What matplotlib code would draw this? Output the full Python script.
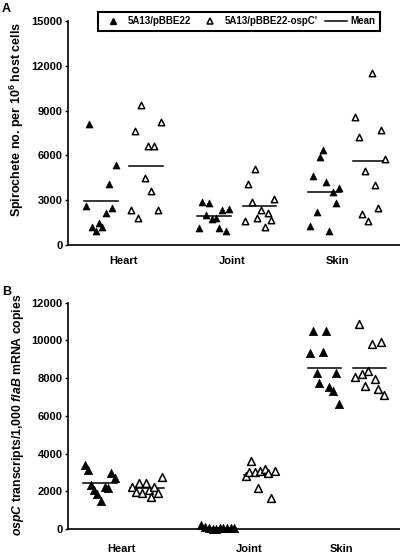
import matplotlib
matplotlib.use('Agg')
import matplotlib.pyplot as plt
from matplotlib.lines import Line2D
import numpy as np

plt.rcParams['font.family'] = ['Liberation Sans', 'DejaVu Sans']
plt.rcParams['font.weight'] = 'bold'
plt.rcParams['mathtext.fontset'] = 'custom'
plt.rcParams['mathtext.rm'] = 'Liberation Sans:bold'
plt.rcParams['mathtext.bf'] = 'Liberation Sans:bold'
plt.rcParams['mathtext.it'] = 'Liberation Sans:bold:italic'

# ---------------- data ----------------
tissues = ['Heart', 'Joint', 'Skin']
series_names = ['5A13/pBBE22', "5A13/pBBE22-ospC'", 'Mean']

# Panel A: spirochete number per 10^6 host cells
a_heart_ctrl = [8080, 5340, 4090, 2630, 2460, 2170, 1500, 1230, 1230, 940]
a_heart_ospc = [9370, 8220, 7630, 6650, 6650, 4510, 3640, 2340, 2340, 1790]
a_joint_ctrl = [2860, 2790, 2340, 2390, 1990, 1720, 1790, 1160, 1160, 940]
a_joint_ospc = [5070, 4060, 2860, 3060, 2340, 2170, 1830, 1670, 1630, 1180]
a_skin_ctrl = [6360, 5920, 4640, 4240, 3800, 3530, 2790, 2190, 1290, 960]
a_skin_ospc = [11540, 8590, 7700, 7250, 5760, 4980, 4020, 2460, 2060, 1630]
a_yticks = [0, 3000, 6000, 9000, 12000, 15000]

# Panel B: ospC transcripts per 1,000 flaB mRNA copies
b_heart_ctrl = [3390, 3130, 2950, 2720, 2330, 2070, 1840, 1500, 2240, 2160]
b_heart_ospc = [2210, 1980, 2420, 1890, 2450, 2070, 1680, 2210, 1920, 2770]
b_joint_ctrl = [220, 120, 40, 20, 20, 30, 30, 40, 60, 70]
b_joint_ospc = [3600, 2820, 3000, 3000, 3070, 3180, 2950, 3070, 2160, 1630]
b_skin_ctrl = [10510, 10510, 9310, 9390, 8280, 8280, 7750, 7510, 7330, 6620]
b_skin_ospc = [10860, 9800, 9890, 8070, 8210, 8390, 7980, 7580, 7450, 7100]
b_yticks = [0, 2000, 4000, 6000, 8000, 10000, 12000]

# ---------------- layout (horizontal jitter of points) ----------------
a_centers = [56, 164, 270]
b_centers = [54, 181, 274]
a_jit = [
    ([-35, -8, -15, -38, -12, -18, -25, -32, -22, -28], [17, 37, 11, 24, 30, 21, 27, 7, 34, 14]),
    ([-30, -23, -10, -3, -26, -20, -16, -33, -13, -6], [23, 16, 20, 42, 29, 36, 25, 39, 13, 33]),
    ([-15, -18, -25, -12, 1, -5, -2, -21, -28, -9], [34, 17, 43, 21, 47, 27, 37, 40, 24, 30]),
]
b_jit = [
    ([-37, -34, -11, -7, -31, -28, -25, -21, -17, -14], [10, 14, 17, 20, 24, 27, 29, 32, 36, 40]),
    ([-48, -44, -40, -36, -33, -29, -26, -22, -18, -15], [2, -3, 0, 6, 11, 16, 19, 26, 9, 22]),
    ([-29, -16, -32, -19, -25, -6, -23, -13, -9, -3], [17, 30, 39, 13, 20, 26, 33, 23, 36, 42]),
]

W, H = 400, 553
fig = plt.figure(figsize=(W / 100, H / 100), dpi=100)

ax_a = fig.add_axes([68 / W, 1 - 245 / H, 332 / W, 224 / H])
ax_b = fig.add_axes([68 / W, 1 - 529 / H, 332 / W, 226.3 / H])


def draw_panel(ax, centers, jit, groups, yticks, ms_f, ms_o):
    for i, (vf, vo) in enumerate(groups):
        xf = centers[i] + np.array(jit[i][0], dtype=float)
        xo = centers[i] + np.array(jit[i][1], dtype=float)
        ax.plot([xf.min() - 2, xf.max() + 2], [np.mean(vf)] * 2, color='black', lw=1.1, zorder=2)
        ax.plot([xo.min() - 2, xo.max() + 2], [np.mean(vo)] * 2, color='black', lw=1.1, zorder=2)
        ax.scatter(xf, vf, marker='^', s=ms_f ** 2, c='black', edgecolors='black', linewidths=0.5,
                   zorder=3, clip_on=False)
        ax.scatter(xo, vo, marker='^', s=ms_o ** 2, facecolors='white', edgecolors='black',
                   linewidths=1.1, zorder=3, clip_on=False)
    ax.set_xlim(0, 332)
    ax.set_ylim(yticks[0], yticks[-1])
    ax.set_yticks(yticks)
    ax.set_yticklabels([str(t) for t in yticks])
    ax.set_xticks(centers)
    ax.set_xticklabels(tissues)
    for s in ['top', 'right']:
        ax.spines[s].set_visible(False)
    for s in ['left', 'bottom']:
        ax.spines[s].set_linewidth(1.2)
    ax.tick_params(axis='y', direction='out', length=2.5, width=1.0, pad=1.5, labelsize=8)
    ax.tick_params(axis='x', length=0, labelsize=8)


draw_panel(ax_a, a_centers, a_jit,
           [(a_heart_ctrl, a_heart_ospc), (a_joint_ctrl, a_joint_ospc), (a_skin_ctrl, a_skin_ospc)],
           a_yticks, 5.0, 4.6)
draw_panel(ax_b, b_centers, b_jit,
           [(b_heart_ctrl, b_heart_ospc), (b_joint_ctrl, b_joint_ospc), (b_skin_ctrl, b_skin_ospc)],
           b_yticks, 6.0, 5.6)
ax_a.tick_params(axis='x', pad=8)
ax_b.tick_params(axis='x', pad=11)

ax_a.set_ylabel(r'Spirochete no. per 10$^{\mathbf{6}}$ host cells', fontsize=9, fontweight='bold')
ax_a.yaxis.set_label_coords(-0.125, 0.5625)
ax_b.set_ylabel(r'$\mathit{ospC}$ transcripts/1,000 $\mathit{flaB}$ mRNA copies', fontsize=8.8,
                fontweight='bold')
ax_b.yaxis.set_label_coords(-0.125, 0.504)

fig.text(2 / W, 1 - 3 / H, 'A', fontsize=9, fontweight='bold', va='top', ha='left')
fig.text(2 / W, 1 - 286 / H, 'B', fontsize=9, fontweight='bold', va='top', ha='left')

handles = [
    Line2D([], [], marker='^', ls='none', color='black', markersize=5),
    Line2D([], [], marker='^', ls='none', markerfacecolor='white', markeredgecolor='black',
           markeredgewidth=1.1, markersize=4.6),
    Line2D([], [], color='black', lw=1.1),
]
leg = fig.legend(handles, series_names, loc='center', bbox_to_anchor=(239 / W, 1 - 21.5 / H),
                 ncol=3, fontsize=7, frameon=True, fancybox=False, edgecolor='black',
                 handlelength=2.2, handletextpad=0.4, columnspacing=0.8, borderpad=0.45,
                 borderaxespad=0)
leg.get_frame().set_linewidth(1.5)
leg.get_frame().set_facecolor('white')
leg.get_frame().set_alpha(1)
for t in leg.get_texts():
    t.set_fontweight('bold')

fig.savefig('out.png', dpi=100)
